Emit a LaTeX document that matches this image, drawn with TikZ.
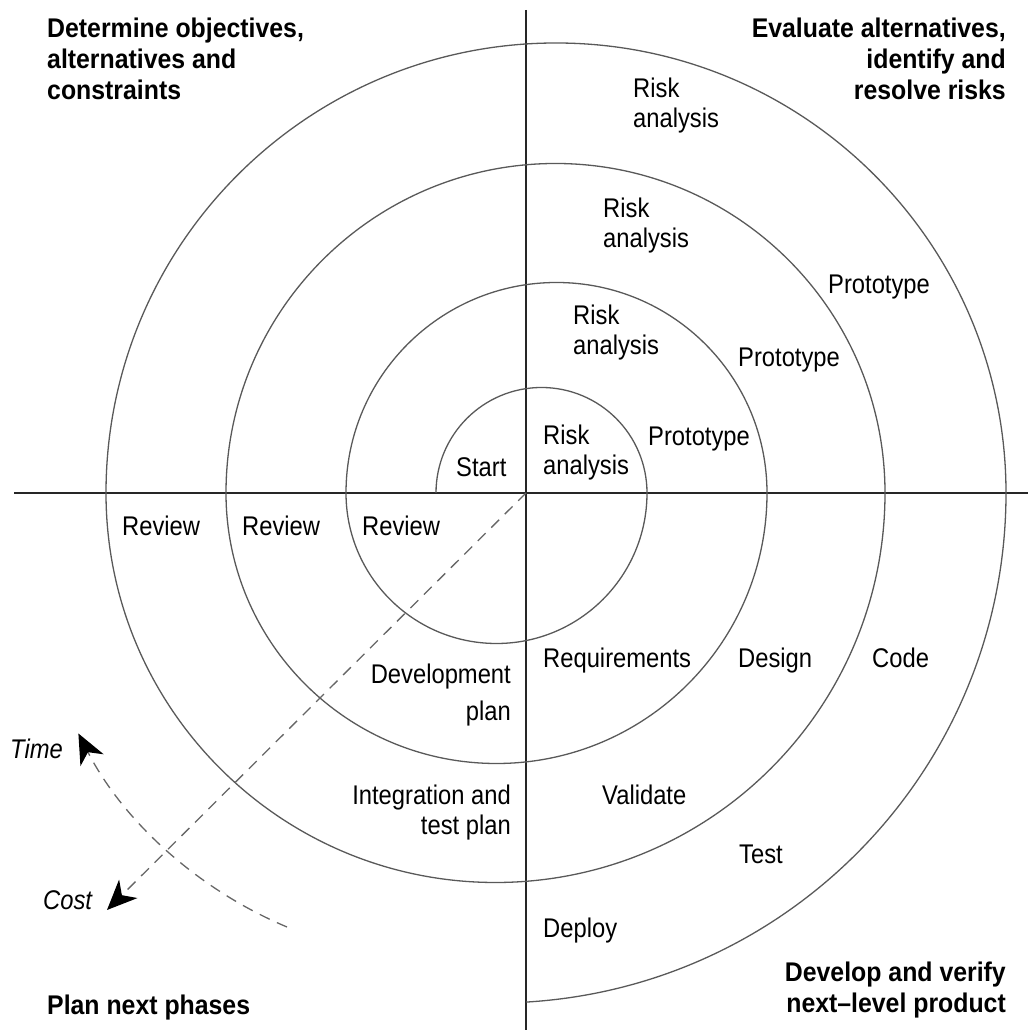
\documentclass[tikz,border=0pt]{standalone}
\usepackage{fontspec}
\setmainfont{Liberation Sans}[FakeStretch=0.88]
\newfontfamily\headfont{Liberation Sans}[FakeStretch=0.92]
\usetikzlibrary{arrows.meta}

\begin{document}
\begin{tikzpicture}[x=1pt,y=1pt,
  axis/.style={line width=2.4pt, draw=black!85},
  spiral/.style={line width=1.3pt, draw=black!65},
  flow/.style={line width=1.3pt, draw=black!60, dash pattern=on 11pt off 8pt},
  bigtip/.style={-{Stealth[length=30pt,width=26pt,inset=9pt,color=black]}},
  lbl/.style={inner sep=0pt, font=\fontsize{27}{30}\selectfont},
  lblw/.style={lbl, anchor=base west, align=left},
  lble/.style={lbl, anchor=base east, align=right},
  head/.style={inner sep=0pt, font=\headfont\bfseries\fontsize{27}{31}\selectfont},
]
\useasboundingbox (0,0) rectangle (1028,1030);

% axes dividing the four quadrants
\coordinate (O) at (526,537);
\coordinate (W) at (14,537);
\coordinate (E) at (1028,537);
\coordinate (N) at (526,1020);
\coordinate (S) at (526,0);
\draw[axis] (W) -- (E);
\draw[axis] (N) -- (S);

% the spiral: alternating half turns
\coordinate (s0) at (436,537);
\draw[spiral] (s0)
  arc[start angle=180, end angle=0, radius=105.5]
  arc[start angle=0, end angle=-180, radius=150.5]
  arc[start angle=180, end angle=0, radius=210.5]
  arc[start angle=0, end angle=-180, radius=270.5]
  arc[start angle=180, end angle=0, radius=329.5]
  arc[start angle=0, end angle=-180, radius=389.5]
  arc[start angle=180, end angle=0, radius=450]
  arc[start angle=0, end angle=-86.6, radius=510];

% quadrant headings (multi-line nodes sit on their last baseline)
\node[head, anchor=base west, align=left] (objectives) at (47,930)
  {Determine objectives,\\alternatives and\\constraints};
\node[head, anchor=base east, align=right] (evaluate) at (1006,930)
  {Evaluate alternatives,\\identify and\\resolve risks};
\node[head, anchor=base west] (planphase) at (47,15) {Plan next phases};
\node[head, anchor=base east, align=right] (develop) at (1006,17)
  {Develop and verify\\next–level product};

% labels along the spiral
\node[lblw] (start) at (456,553) {Start};
\node[lblw] (risk1) at (543,555) {Risk\\analysis};
\node[lblw] (risk2) at (573,675) {Risk\\analysis};
\node[lblw] (risk3) at (603,782) {Risk\\analysis};
\node[lblw] (risk4) at (633,902) {Risk\\analysis};
\node[lblw] (proto1) at (648,584) {Prototype};
\node[lblw] (proto2) at (738,663) {Prototype};
\node[lblw] (proto3) at (828,736) {Prototype};
\node[lblw] (review1) at (122,494) {Review};
\node[lblw] (review2) at (242,494) {Review};
\node[lblw] (review3) at (362,494) {Review};
\node[lblw] (req) at (543,362) {Requirements};
\node[lblw] (design) at (738,362) {Design};
\node[lblw] (code) at (872,362) {Code};
\node[lble] (devplan) at (511,309) {Development\\[7pt]plan};
\node[lble] (intplan) at (511,195) {Integration and\\test plan};
\node[lblw] (validate) at (602,225) {Validate};
\node[lblw] (test) at (739,166) {Test};
\node[lblw] (deploy) at (543,92) {Deploy};

% time and cost arrows
\node[lblw, font=\itshape\fontsize{27}{30}\selectfont] (time) at (10,271) {Time};
\node[lblw, font=\itshape\fontsize{27}{30}\selectfont] (cost) at (43,120) {Cost};
\coordinate (costtip) at (107,120);
\draw[flow, bigtip] (O) -- (costtip);
\coordinate (t0) at (287,103);
\draw[flow, bigtip] (t0) arc[start angle=247.2, end angle=207.1, radius=415];
\end{tikzpicture}
\end{document}
